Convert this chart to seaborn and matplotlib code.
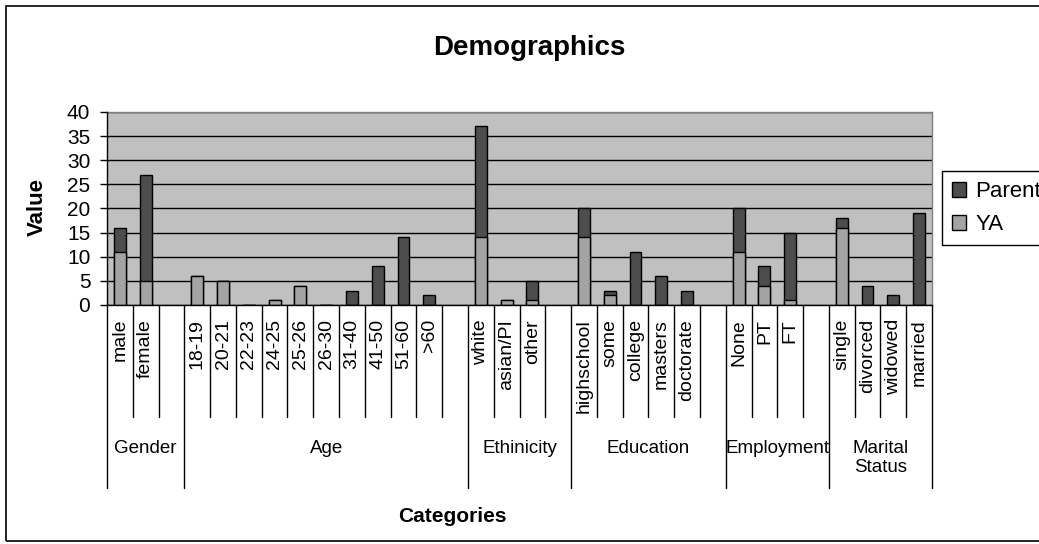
import numpy as np
import pandas as pd
import matplotlib
matplotlib.use("Agg")
import matplotlib.pyplot as plt
import seaborn as sns
from matplotlib.patches import Rectangle, Patch

# category groups (Excel style multi-level axis)
groups = ["Gender", "Age", "Ethinicity", "Education", "Employment", "Marital\nStatus"]
gender = ["male", "female"]
age = ["18-19", "20-21", "22-23", "24-25", "25-26", "26-30", "31-40", "41-50", "51-60", ">60"]
ethnicity = ["white", "asian/PI", "other"]
education = ["highschool", "some", "college", "masters", "doctorate"]
employment = ["None", "PT", "FT"]
marital = ["single", "divorced", "widowed", "married"]

ya_gender = [11, 5]
ya_age = [6, 5, 0, 1, 4, 0, 0, 0, 0, 0]
ya_ethnicity = [14, 1, 1]
ya_education = [14, 2, 0, 0, 0]
ya_employment = [11, 4, 1]
ya_marital = [16, 0, 0, 0]

parent_gender = [5, 22]
parent_age = [0, 0, 0, 0, 0, 0, 3, 8, 14, 2]
parent_ethnicity = [23, 0, 4]
parent_education = [6, 1, 11, 6, 3]
parent_employment = [9, 4, 14]
parent_marital = [2, 4, 2, 19]

cats = [gender, age, ethnicity, education, employment, marital]
ya = [ya_gender, ya_age, ya_ethnicity, ya_education, ya_employment, ya_marital]
parent = [parent_gender, parent_age, parent_ethnicity, parent_education,
          parent_employment, parent_marital]

# build slots, leaving an empty slot after each group but the last
rows = []
slot_labels = []
group_spans = []
slot = 0
for gi, (g, c, y, p) in enumerate(zip(groups, cats, ya, parent)):
    start = slot
    for lab, yv, pv in zip(c, y, p):
        rows.append({"slot": slot, "label": lab, "group": g, "YA": yv, "Parent": pv})
        slot_labels.append(lab)
        slot += 1
    if gi < len(groups) - 1:
        slot_labels.append("")
        slot += 1
    group_spans.append((start, slot))
df = pd.DataFrame(rows)
df["total"] = df["YA"] + df["Parent"]
order = list(range(slot))

W, H = 1039, 544
DARK = "#4d4d4d"
LIGHT = "#a3a3a3"

sns.set_theme(style="white")
plt.rcParams["font.family"] = ["Liberation Sans", "DejaVu Sans"]
plt.rcParams.update({"text.color": "black", "axes.labelcolor": "black",
                     "xtick.color": "black", "ytick.color": "black"})

fig = plt.figure(figsize=(W / 100, H / 100), dpi=100)
L, R, T, B = 107, 932, 112, 305
ax = fig.add_axes([L / W, 1 - B / H, (R - L) / W, (B - T) / H])
ax.set_facecolor("#c0c0c0")

sns.barplot(data=df, x="slot", y="total", order=order, color=DARK, saturation=1,
            width=0.46, edgecolor="black", linewidth=1, errorbar=None, ax=ax)
sns.barplot(data=df, x="slot", y="YA", order=order, color=LIGHT, saturation=1,
            width=0.46, edgecolor="black", linewidth=1, errorbar=None, ax=ax)

ax.set_xlim(-0.5, slot - 0.5)
ax.set_ylim(0, 40)
ax.set_yticks(np.arange(0, 41, 5))
ax.yaxis.grid(True, color="black", linewidth=1)
ax.set_axisbelow(True)
for s in ["left", "bottom"]:
    ax.spines[s].set_color("black")
    ax.spines[s].set_linewidth(1)
    ax.spines[s].set_zorder(3)
for s in ["top", "right"]:
    ax.spines[s].set_color("#808080")
    ax.spines[s].set_linewidth(1)

ax.tick_params(axis="y", direction="out", length=5, width=1, color="black",
               labelsize=15, pad=7, left=True, labelcolor="black")
ax.set_xticks(order)
ax.set_xticklabels(slot_labels, rotation=90, va="top", ha="center", fontsize=14,
                   color="black")
ax.tick_params(axis="x", length=0, pad=10)
ax.set_xlabel("")
ax.set_ylabel("")

# separator lines of the category axis
trans = ax.get_xaxis_transform()
h = B - T
inner_bot = -(417 - B) / h
group_bot = -(488 - B) / h
group_edges = {s for s, e in group_spans} | {e for s, e in group_spans}
for k in range(slot + 1):
    xk = k - 0.5
    yb = group_bot if k in group_edges else inner_bot
    ax.plot([xk, xk], [0, yb], color="black", lw=1, transform=trans, clip_on=False)

for g, (s, e) in zip(groups, group_spans):
    ax.text((s + e - 1) / 2, -(440 - B) / h, g, transform=trans, ha="center",
            va="top", fontsize=13.5, linespacing=1.15, color="black")

fig.text(529 / W, 1 - 55 / H, "Demographics", ha="center", va="baseline",
         fontsize=20, fontweight="bold", color="black")
fig.text(37 / W, 1 - 207 / H, "Value", ha="center", va="center", rotation=90,
         fontsize=16, fontweight="bold", color="black")
fig.text(452 / W, 1 - 517 / H, "Categories", ha="center", va="center",
         fontsize=15, fontweight="bold", color="black")

handles = [Patch(facecolor=DARK, edgecolor="black", lw=1),
           Patch(facecolor=LIGHT, edgecolor="black", lw=1)]
leg = fig.legend(handles, ["Parent", "YA"], loc="upper left",
                 bbox_to_anchor=(942 / W, 1 - 171 / H), frameon=True,
                 fancybox=False, edgecolor="black", framealpha=1, fontsize=16,
                 handlelength=0.65, handleheight=0.65, handletextpad=0.4,
                 borderpad=0.45, labelspacing=0.55, borderaxespad=0)
leg.get_frame().set_linewidth(1)
for t in leg.get_texts():
    t.set_color("black")

fig.patches.append(Rectangle((6 / W, 3 / H), 1.2, (541 - 6) / H, transform=fig.transFigure,
                             fill=False, edgecolor="black", lw=1.2))

fig.savefig("out.png", dpi=100)
